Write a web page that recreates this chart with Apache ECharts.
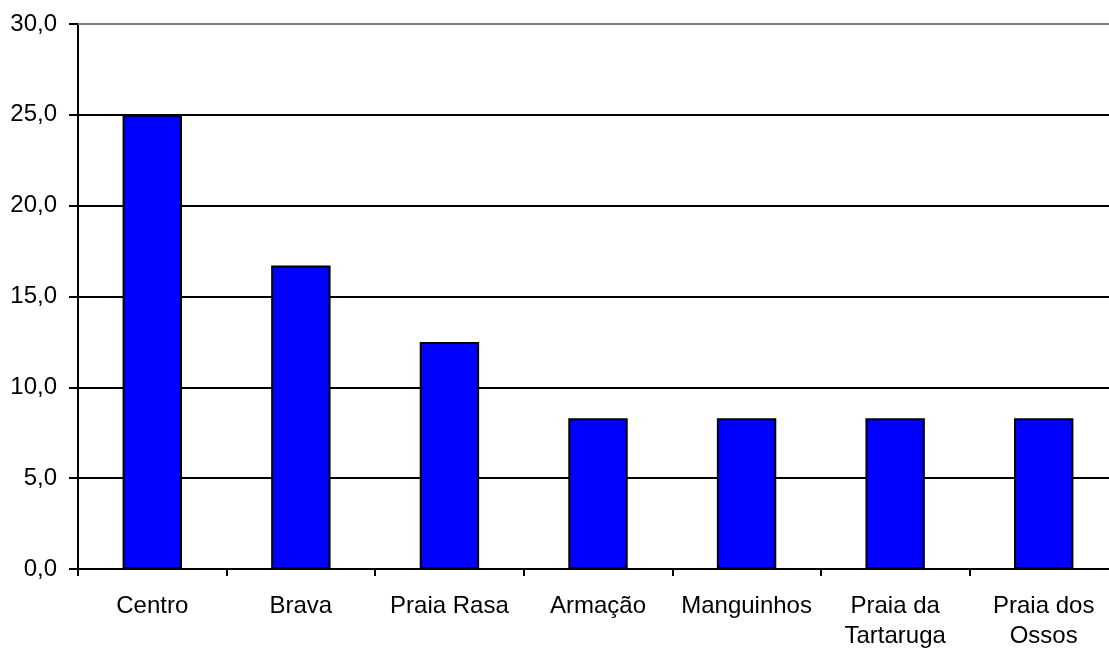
<!DOCTYPE html>
<html>
<head>
<meta charset="utf-8">
<script src="https://cdn.jsdelivr.net/npm/echarts@6/dist/echarts.min.js"></script>
<style>
  html, body { margin: 0; padding: 0; background: #fff; }
  #chart { width: 1109px; height: 650px; }
</style>
</head>
<body>
<div id="chart"></div>
<script>
// bairros e valores (%)
var categories = ['Centro', 'Brava', 'Praia Rasa', 'Armação', 'Manguinhos', 'Praia da\nTartaruga', 'Praia dos\nOssos'];
var values = [25.0, 16.7, 12.5, 8.3, 8.3, 8.3, 8.3];
var yMin = 0, yMax = 30, yStep = 5;

var myChart = echarts.init(document.getElementById('chart'));

var option = {
  backgroundColor: '#fff',
  animation: false,
  grid: {
    left: 78,
    top: 24,
    bottom: 81,
    width: 1040,
    containLabel: false,
    outerBoundsMode: 'none'
  },
  xAxis: {
    type: 'category',
    data: categories,
    axisLine: { lineStyle: { color: '#000', width: 2 } },
    axisTick: { show: true, length: 7, lineStyle: { color: '#000', width: 2 } },
    axisLabel: {
      interval: 0,
      margin: 22,
      color: '#000',
      fontFamily: 'Liberation Sans, Arial, sans-serif',
      fontSize: 24,
      lineHeight: 30
    }
  },
  yAxis: {
    type: 'value',
    min: yMin,
    max: yMax,
    interval: yStep,
    axisLine: { show: true, lineStyle: { color: '#000', width: 2 } },
    axisTick: { show: true, length: 9, lineStyle: { color: '#000', width: 2 } },
    axisLabel: {
      margin: 21,
      color: '#000',
      fontFamily: 'Liberation Sans, Arial, sans-serif',
      fontSize: 24,
      formatter: function(v) {
        return v.toFixed(1).replace('.', ',');
      }
    },
    splitLine: {
      show: true,
      showMaxLine: false,
      lineStyle: { color: '#000', width: 2 }
    }
  },
  series: [
    {
      type: 'bar',
      data: values,
      barWidth: '40%',
      itemStyle: {
        color: '#0000FF',
        borderColor: '#000',
        borderWidth: 2
      },
      markLine: {
        silent: true,
        symbol: 'none',
        label: { show: false },
        lineStyle: { color: '#808080', type: 'solid', width: 2 },
        data: [{ yAxis: yMax }]
      }
    }
  ]
};

myChart.setOption(option);
</script>
</body>
</html>
